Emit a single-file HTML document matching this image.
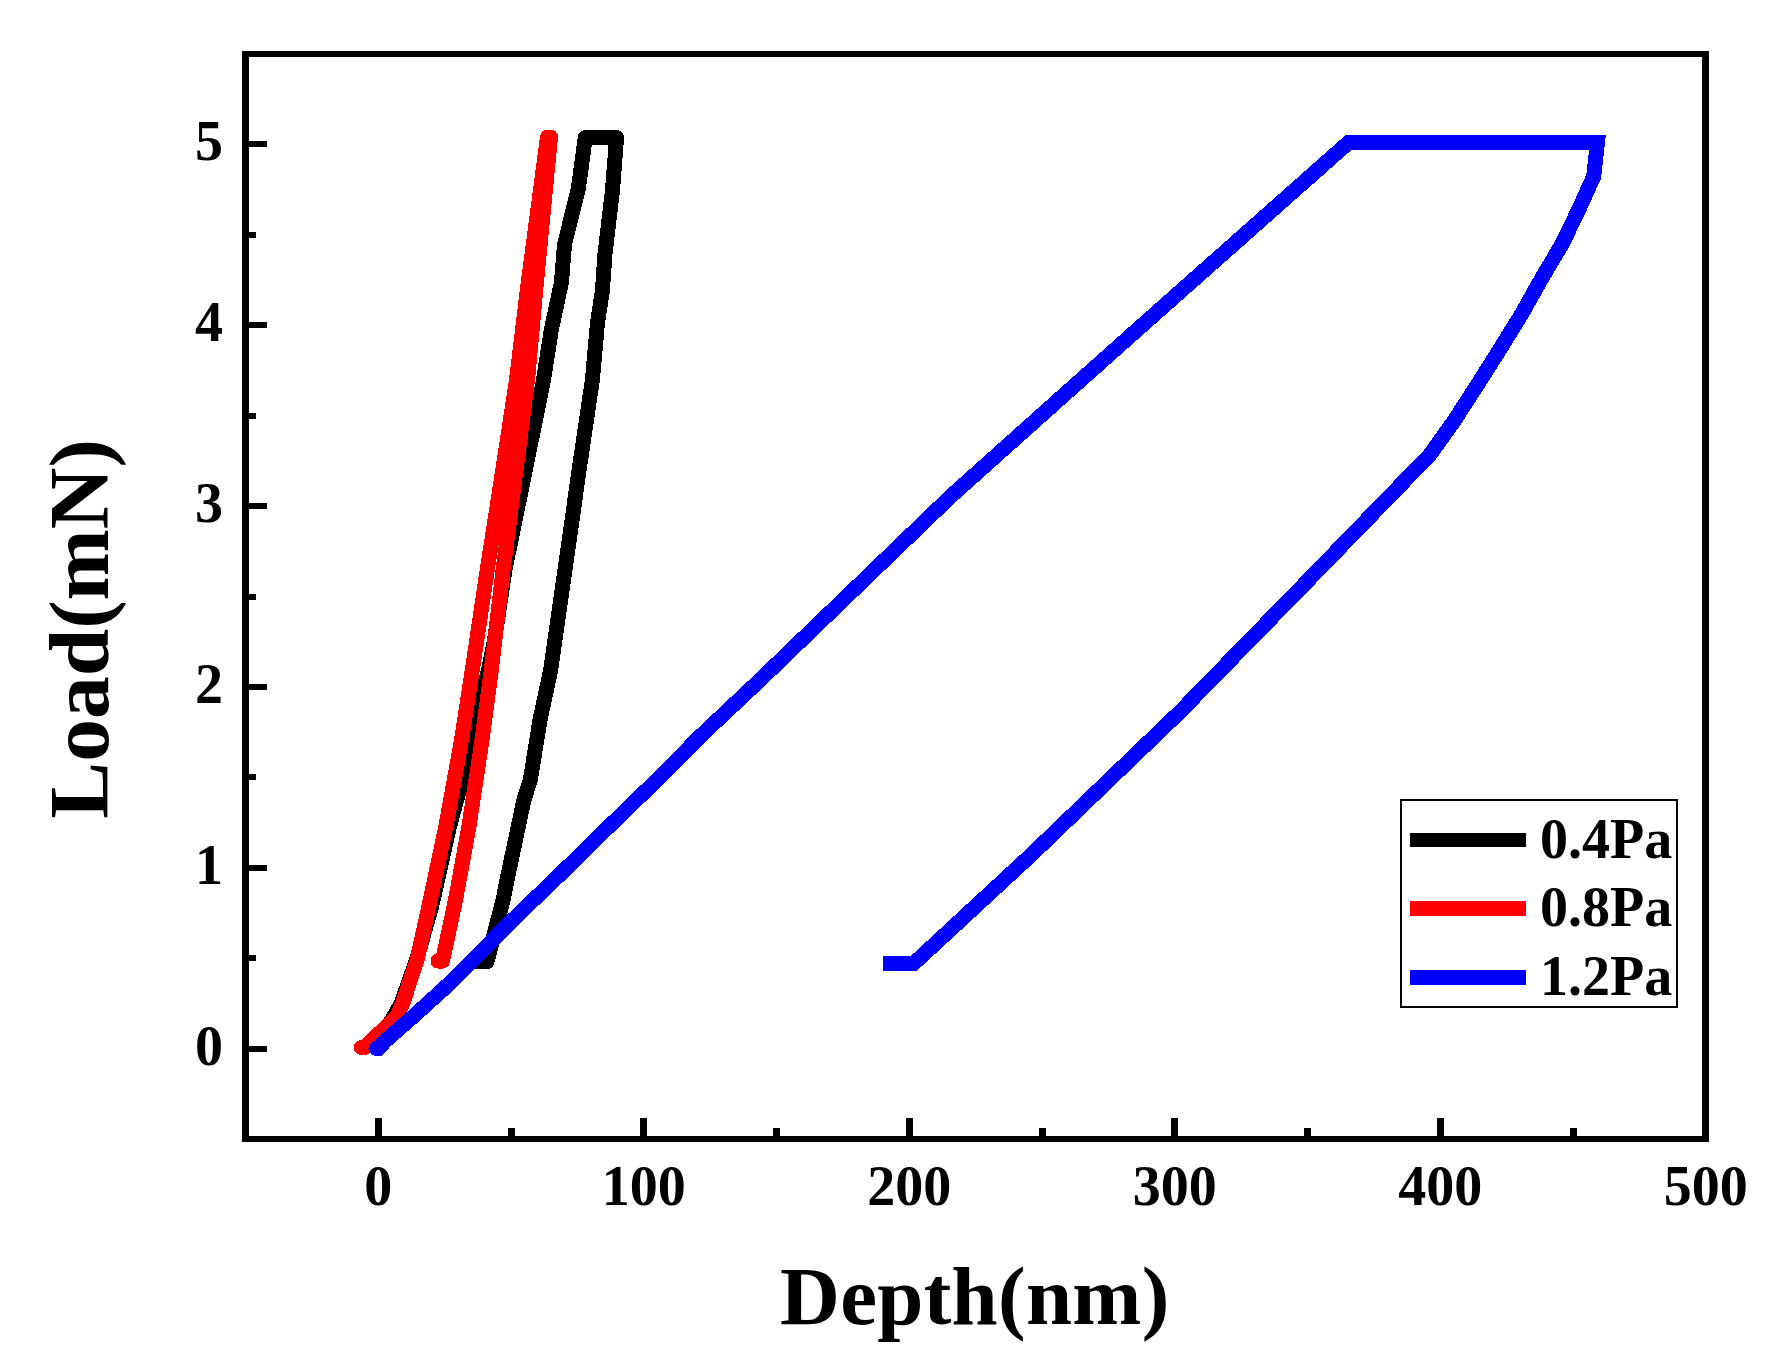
<!DOCTYPE html>
<html><head><meta charset="utf-8"><title>Load-Depth</title>
<style>
html,body{margin:0;padding:0;background:#fff;}
body{width:1788px;height:1348px;overflow:hidden;}
svg{display:block;}
text{font-family:"Liberation Serif",serif;font-weight:bold;fill:#000;}
.tick{font-size:56px;}
.leg{font-size:56px;}
.title{font-size:82.9px;}
</style></head><body>
<svg width="1788" height="1348" viewBox="0 0 1788 1348" shape-rendering="crispEdges">
<rect x="0" y="0" width="1788" height="1348" fill="#fff"/>

<polyline points="378.0,1048.5 386.0,1030.0 394.0,1016.0 401.0,1004.0 416.5,960.0 431.5,907.0 449.4,826.8 462.0,780.0 468.0,746.7 485.1,683.6 488.5,670.0 494.5,640.0 504.9,570.0 525.3,470.0 543.5,380.0 551.3,330.0 561.5,282.0 564.5,244.6 578.3,189.0 585.3,137.5 616.6,137.5 612.6,189.0 604.8,255.7 602.5,290.0 597.5,322.5 592.4,380.0 589.7,398.0 579.1,470.0 565.0,570.0 550.7,670.0 540.0,720.0 530.3,780.0 523.9,800.0 507.0,880.0 503.1,900.0 487.0,961.5 474.0,961.5" fill="none" stroke="#000" stroke-width="15" stroke-linejoin="round" stroke-linecap="round"/>
<polyline points="361.3,1047.5 365.0,1047.3 398.0,1015.0 403.5,1001.0 417.0,960.0 428.8,907.0 445.8,826.8 461.5,740.0 472.3,670.0 487.2,570.0 502.8,470.0 516.5,380.0 527.3,290.0 547.5,137.0 550.5,137.0 535.7,290.0 527.5,380.0 516.0,470.0 503.1,570.0 491.3,670.0 482.0,740.0 468.9,826.8 455.5,900.0 442.5,961.0 438.0,961.0" fill="none" stroke="#f00" stroke-width="15" stroke-linejoin="round" stroke-linecap="round"/>
<polyline points="375.8,1048.5 378.5,1048.5 385.2,1041.0 411.2,1018.3 442.9,989.6 460.0,973.0 482.0,950.7 511.0,921.5 560.0,874.5 594.7,840.3 658.0,779.0 700.0,736.5 760.0,680.0 950.0,497.0 1055.0,403.0 1160.0,309.5 1348.5,142.5 1597.5,142.5 1593.7,176.5 1579.7,207.5 1562.6,243.1 1541.5,278.7 1521.5,314.3 1499.5,349.9 1477.0,385.5 1454.0,421.0 1428.5,456.7 1418.0,467.0 1304.6,584.0 1180.0,711.8 1030.0,856.0 913.5,963.7 882.7,963.7" fill="none" stroke="#00f" stroke-width="15" stroke-linejoin="miter" stroke-linecap="butt"/>
<circle cx="375.8" cy="1048.5" r="7.3" fill="#00f"/>
<rect x="242" y="51" width="7" height="1091" fill="#000"/>
<rect x="1702" y="51" width="7" height="1091" fill="#000"/>
<rect x="242" y="51" width="1467" height="6" fill="#000"/>
<rect x="242" y="1136" width="1467" height="6" fill="#000"/>
<rect x="245" y="1045.7" width="22" height="6" fill="#000"/>
<text class="tick" x="223" y="1064.5" text-anchor="end">0</text>
<rect x="245" y="864.8" width="22" height="6" fill="#000"/>
<text class="tick" x="223" y="883.6" text-anchor="end">1</text>
<rect x="245" y="683.9" width="22" height="6" fill="#000"/>
<text class="tick" x="223" y="702.7" text-anchor="end">2</text>
<rect x="245" y="503.0" width="22" height="6" fill="#000"/>
<text class="tick" x="223" y="521.8" text-anchor="end">3</text>
<rect x="245" y="322.1" width="22" height="6" fill="#000"/>
<text class="tick" x="223" y="340.9" text-anchor="end">4</text>
<rect x="245" y="141.2" width="22" height="6" fill="#000"/>
<text class="tick" x="223" y="160.0" text-anchor="end">5</text>
<rect x="245" y="955.2" width="11" height="6" fill="#000"/>
<rect x="245" y="774.4" width="11" height="6" fill="#000"/>
<rect x="245" y="593.5" width="11" height="6" fill="#000"/>
<rect x="245" y="412.6" width="11" height="6" fill="#000"/>
<rect x="245" y="231.6" width="11" height="6" fill="#000"/>
<rect x="374.8" y="1118" width="7" height="20" fill="#000"/>
<text class="tick" x="378.3" y="1205" text-anchor="middle">0</text>
<rect x="640.3" y="1118" width="7" height="20" fill="#000"/>
<text class="tick" x="643.8" y="1205" text-anchor="middle">100</text>
<rect x="905.8" y="1118" width="7" height="20" fill="#000"/>
<text class="tick" x="909.3" y="1205" text-anchor="middle">200</text>
<rect x="1171.3" y="1118" width="7" height="20" fill="#000"/>
<text class="tick" x="1174.8" y="1205" text-anchor="middle">300</text>
<rect x="1436.8" y="1118" width="7" height="20" fill="#000"/>
<text class="tick" x="1440.3" y="1205" text-anchor="middle">400</text>
<text class="tick" x="1705.8" y="1205" text-anchor="middle">500</text>
<rect x="507.6" y="1128" width="7" height="10" fill="#000"/>
<rect x="773.0" y="1128" width="7" height="10" fill="#000"/>
<rect x="1038.5" y="1128" width="7" height="10" fill="#000"/>
<rect x="1304.0" y="1128" width="7" height="10" fill="#000"/>
<rect x="1569.5" y="1128" width="7" height="10" fill="#000"/>
<text class="title" x="974.8" y="1324.2" text-anchor="middle" letter-spacing="0.3">Depth(nm)</text>
<text class="title" style="font-size:85.4px" transform="translate(107.6,628.9) rotate(-90)" text-anchor="middle">Load(mN)</text>
<rect x="1401" y="800" width="276" height="207" fill="#fff" stroke="#000" stroke-width="2"/>
<rect x="1410" y="832.7" width="116" height="14.6" fill="#000"/>
<text class="leg" x="1540" y="857.5">0.4Pa</text>
<rect x="1410" y="901.2" width="116" height="14.6" fill="#f00"/>
<text class="leg" x="1540" y="926">0.8Pa</text>
<rect x="1410" y="970.0" width="116" height="14.6" fill="#00f"/>
<text class="leg" x="1540" y="995.4">1.2Pa</text>
</svg></body></html>
